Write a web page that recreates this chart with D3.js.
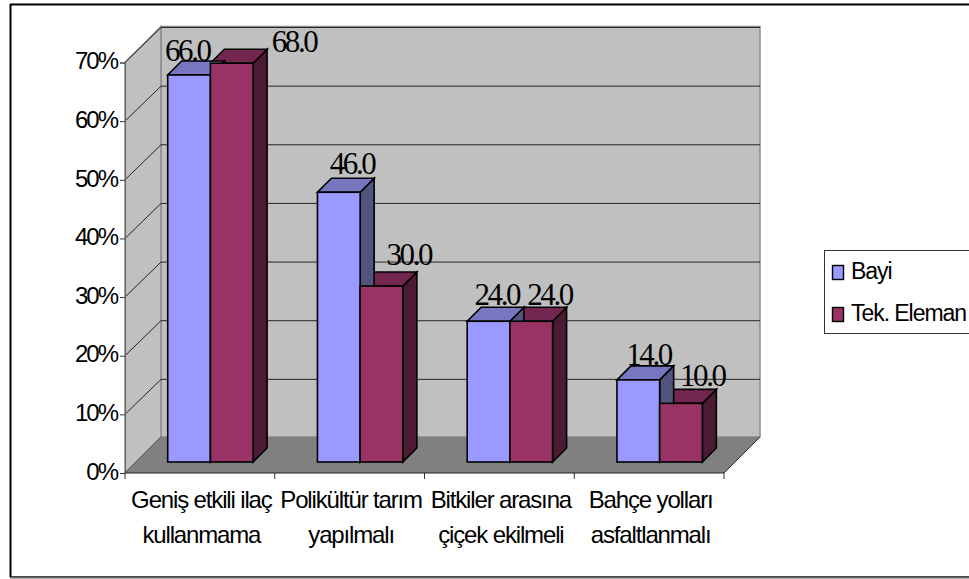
<!DOCTYPE html>
<html><head><meta charset="utf-8">
<script src="https://cdn.jsdelivr.net/npm/d3@7"></script>
<style>html,body{margin:0;padding:0;background:#fff;overflow:hidden}svg{display:block}</style>
</head><body><div id="c"></div>
<script>
const categories = [["Geniş etkili ilaç","kullanmama"],["Polikültür tarım","yapılmalı"],["Bitkiler arasına","çiçek ekilmeli"],["Bahçe yolları","asfaltlanmalı"]];
const seriesNames = ["Bayi","Tek. Eleman"];
const bayi = [66,46,24,14];
const tekEleman = [68,30,24,10];
const yTicks = [0,10,20,30,40,50,60,70];
// label nudges (layout, px) relative to each bar's top-centre
const labelDx = [[-2,62],[13,27],[8,18],[10,21]];
const labelDy = [[-14,-11],[-18,-21],[-16,-16],[-15,-17]];

const W=969,H=579,DEPTH=36,BARD=14,INSET=11;
const svg=d3.select("#c").append("svg").attr("width",W).attr("height",H);
const x=d3.scaleLinear().domain([0,4]).range([125,724]);
const y=d3.scaleLinear().domain([0,70]).range([473,62.5]);
const sans="'Liberation Sans',Arial,sans-serif", serif="'Liberation Serif','Times New Roman',serif";
const poly=(pts,fill,stroke,sw)=>svg.append("polygon").attr("points",pts.map(p=>p.join(",")).join(" ")).attr("fill",fill).attr("stroke",stroke||"none").attr("stroke-width",sw||0);

// frame
const frame=svg.append("g");
frame.append("line").attr("x1",10).attr("x2",W).attr("y1",4.5).attr("y2",4.5).attr("stroke","#000").attr("stroke-width",2);
frame.append("line").attr("x1",10.5).attr("x2",10.5).attr("y1",4).attr("y2",577).attr("stroke","#000").attr("stroke-width",2);
frame.append("line").attr("x1",10).attr("x2",W).attr("y1",577).attr("y2",577).attr("stroke","#111").attr("stroke-width",1.4);
frame.append("line").attr("x1",10).attr("x2",W).attr("y1",578.2).attr("y2",578.2).attr("stroke","#999").attr("stroke-width",1);

const x0=x(0),x1=x(4),y0=y(0),yT=y(70);
// walls
poly([[x0+DEPTH,y0-DEPTH],[x1+DEPTH,y0-DEPTH],[x1+DEPTH,yT-DEPTH],[x0+DEPTH,yT-DEPTH]],"#c0c0c0","#8a8a8a",1.5);
poly([[x0,y0],[x0+DEPTH,y0-DEPTH],[x0+DEPTH,yT-DEPTH],[x0,yT]],"#c0c0c0","#8a8a8a",1.5);
// gridlines
yTicks.forEach(t=>{
  if(t>0){
    svg.append("line").attr("x1",x0+DEPTH).attr("x2",x1+DEPTH).attr("y1",y(t)-DEPTH+1).attr("y2",y(t)-DEPTH+1).attr("stroke","#262626").attr("stroke-width",1);
  }
  svg.append("line").attr("x1",x0).attr("x2",x0+DEPTH).attr("y1",y(t)).attr("y2",y(t)-DEPTH+(t>0?1:0)).attr("stroke","#222").attr("stroke-width",1);
});
// floor
poly([[x0,y0],[x1,y0],[x1+DEPTH,y0-DEPTH],[x0+DEPTH,y0-DEPTH]],"#808080");
svg.append("line").attr("x1",x1).attr("x2",x1+DEPTH).attr("y1",y0).attr("y2",y0-DEPTH).attr("stroke","#222").attr("stroke-width",1);
svg.append("line").attr("x1",x0).attr("x2",x0+DEPTH).attr("y1",y0).attr("y2",y0-DEPTH).attr("stroke","#555").attr("stroke-width",1);
// axes
const ax=d3.axisLeft(y).tickValues(yTicks).tickSize(5).tickPadding(3).tickFormat(d=>d+"%");
const axg=svg.append("g").attr("transform",`translate(${x0},0)`).call(ax);
axg.selectAll("text").attr("font-family",sans).attr("font-size",24).attr("letter-spacing",-2).attr("fill","#000").attr("dy","0.26em");
axg.selectAll("line,path").attr("stroke","#333");
axg.select("path").attr("stroke","#666").attr("stroke-width",1);
const xax=svg.append("g");
d3.range(5).forEach(i=>xax.append("line").attr("x1",x(i)).attr("x2",x(i)).attr("y1",y0).attr("y2",y0+6).attr("stroke","#333"));
xax.append("line").attr("x1",x0).attr("x2",x1).attr("y1",y0).attr("y2",y0).attr("stroke","#222").attr("stroke-width",1.2);

// bars
const colors=[{f:"#9999ff",t:"#7777bf",s:"#535380"},{f:"#993366",t:"#732650",s:"#4d1a33"}];
const series=[bayi,tekEleman];
const barW=42.7;
const bY=v=>y(v)-INSET;
categories.forEach((c,i)=>{
  [1,0].forEach(s=>{
    const v=series[s][i];
    const l=x(i)+42.7+s*barW, r=l+barW, top=bY(v), bot=y0-INSET;
    const k=colors[s];
    poly([[r,top],[r+BARD,top-BARD],[r+BARD,bot-BARD],[r,bot]],k.s,"#000",1.6);
    poly([[l,top],[r,top],[r+BARD,top-BARD],[l+BARD,top-BARD]],k.t,"#000",1.6);
  });
  [0,1].forEach(s=>{
    const v=series[s][i], l=x(i)+42.7+s*barW, top=bY(v), bot=y0-INSET;
    svg.append("rect").attr("x",l).attr("y",top).attr("width",barW).attr("height",bot-top).attr("fill",colors[s].f).attr("stroke","#000").attr("stroke-width",1.6);
  });
});
// data labels
categories.forEach((c,i)=>{
  [0,1].forEach(s=>{
    const v=series[s][i], cx=x(i)+43+s*barW+barW/2;
    svg.append("text").attr("x",cx+labelDx[i][s]).attr("y",bY(v)+labelDy[i][s]).attr("text-anchor","middle")
      .attr("font-family",serif).attr("font-size",31).attr("letter-spacing",-2.4).attr("fill","#000").text(v.toFixed(1));
  });
});
// category labels
categories.forEach((c,i)=>{
  c.forEach((t,j)=>{
    svg.append("text").attr("x",(x(i)+x(i+1))/2+1.5).attr("y",508+j*34.5).attr("text-anchor","middle")
      .attr("font-family",sans).attr("font-size",24).attr("letter-spacing",-1.15).attr("fill","#000").text(t);
  });
});
// legend
svg.append("rect").attr("x",824.5).attr("y",250.5).attr("width",W).attr("height",83).attr("fill","#fff").attr("stroke","#333").attr("stroke-width",1);
seriesNames.forEach((n,i)=>{
  const yy=265.5+i*42;
  svg.append("rect").attr("x",832.5).attr("y",yy).attr("width",11).attr("height",14).attr("fill",colors[i].f).attr("stroke","#000").attr("stroke-width",1.4);
  svg.append("text").attr("x",851).attr("y",yy+13.5).attr("font-family",sans).attr("font-size",23).attr("letter-spacing",-1.05).attr("fill","#000").text(n);
});
</script></body></html>
